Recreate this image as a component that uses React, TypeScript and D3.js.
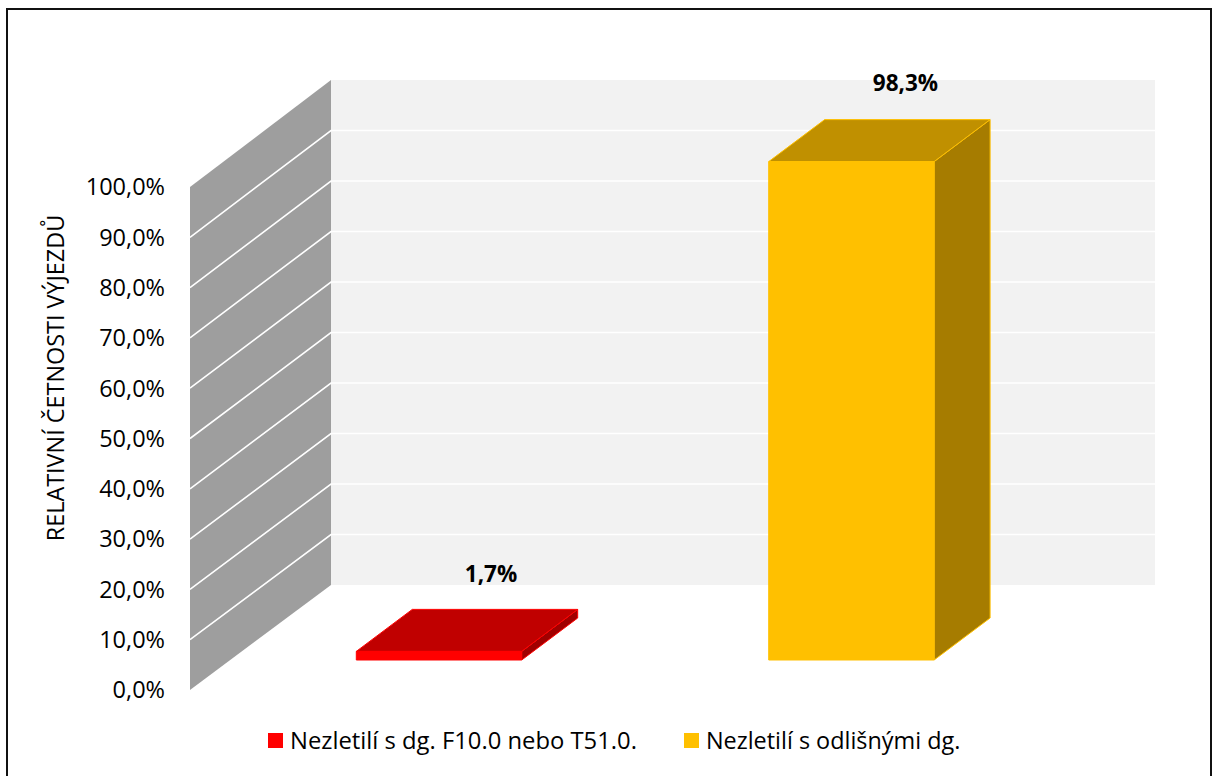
import React from "react";
import * as d3 from "d3";

const categories = ["Nezletilí s dg. F10.0 nebo T51.0.", "Nezletilí s odlišnými dg."];
const values = [1.7, 98.3];
const valueLabels = ["1,7%", "98,3%"];
const frontColors = ["#FF0000", "#FFC000"];
const topColors = ["#C00000", "#C09000"];
const sideColors = ["#A00000", "#A67C00"];
const tickValues = [0, 10, 20, 30, 40, 50, 60, 70, 80, 90, 100];
const tickLabels = ["0,0%", "10,0%", "20,0%", "30,0%", "40,0%", "50,0%", "60,0%", "70,0%", "80,0%", "90,0%", "100,0%"];
const axisTitle = "RELATIVNÍ ČETNOSTI VÝJEZDŮ";

const FONT = "'Open Sans', sans-serif";
const W = 1217;
const H = 776;

// value scales for the front edge of the side wall, the back wall and the bars' plane
const yWall = d3.scaleLinear().domain([0, 100]).range([690, 187]);
const yBack = d3.scaleLinear().domain([0, 100]).range([585, 80]);
const yBar = d3.scaleLinear().domain([0, 100]).range([660, 153]);
const x = d3.scaleBand<string>().domain(categories).range([233.2, 1057.2]).paddingInner(0.599).paddingOuter(0.2985);

const leftX = 190;
const backX = 331;
const wallRight = 1155;
const barDx = 56;
const barDy = -42;

const poly = (pts: [number, number][]) => pts.map((p) => p.join(",")).join(" ");

export default function App() {
  return (
    <svg width={W} height={H} viewBox={`0 0 ${W} ${H}`} style={{ position: "absolute", left: 0, top: 0, display: "block", background: "#fff" }} fontFamily={FONT}>
      <path d="M7 780V9H1211V780" fill="none" stroke="#111" strokeWidth={2} />

      {/* back wall */}
      <rect x={backX} y={yBack(100)} width={wallRight - backX} height={yBack(0) - yBack(100)} fill="#F2F2F2" />
      {/* side wall */}
      <polygon
        points={poly([[leftX, yWall(0)], [backX, yBack(0)], [backX, yBack(100)], [leftX, yWall(100)]])}
        fill="#9E9E9E"
      />
      {/* gridlines */}
      {tickValues.filter((t) => t > 0 && t < 100).map((t) => (
        <polyline
          key={t}
          stroke="#FFFFFF"
          strokeWidth={1.6}
          fill="none"
          points={poly([[leftX, yWall(t)], [backX, yBack(t)], [wallRight, yBack(t)]])}
        />
      ))}

      {/* tick labels */}
      {tickValues.map((t, i) => (
        <text key={t} x={165} y={yWall(t) + 8.3} textAnchor="end" fontSize={23.5} fill="#000">
          {tickLabels[i]}
        </text>
      ))}

      {/* axis title */}
      <text transform="translate(63.5,378) rotate(-90)" textAnchor="middle" fontSize={23.4} fill="#000">
        {axisTitle}
      </text>

      {/* bars */}
      {categories.map((c, i) => {
        const x0 = x(c)!;
        const x1 = x0 + x.bandwidth();
        const yt = yBar(values[i]);
        const yb = yBar(0);
        return (
          <g key={c} stroke={frontColors[i]} strokeWidth={1} strokeLinejoin="round">
            <polygon points={poly([[x1, yt], [x1 + barDx, yt + barDy], [x1 + barDx, yb + barDy], [x1, yb]])} fill={sideColors[i]} />
            <polygon points={poly([[x0, yt], [x0 + barDx, yt + barDy], [x1 + barDx, yt + barDy], [x1, yt]])} fill={topColors[i]} />
            <rect x={x0} y={yt} width={x1 - x0} height={yb - yt} fill={frontColors[i]} />
          </g>
        );
      })}

      {/* value labels */}
      <text x={491} y={582} textAnchor="middle" fontWeight={700} fontSize={22.5} fill="#000">{valueLabels[0]}</text>
      <text x={905.5} y={91} textAnchor="middle" fontWeight={700} fontSize={22.5} fill="#000">{valueLabels[1]}</text>

      {/* legend */}
      <rect x={268} y={733} width={15} height={15} fill={frontColors[0]} />
      <text x={290} y={748.5} fontSize={23.8} fill="#000">{categories[0]}</text>
      <rect x={684} y={733} width={15} height={15} fill={frontColors[1]} />
      <text x={706} y={748.5} fontSize={23.4} fill="#000">{categories[1]}</text>
    </svg>
  );
}
